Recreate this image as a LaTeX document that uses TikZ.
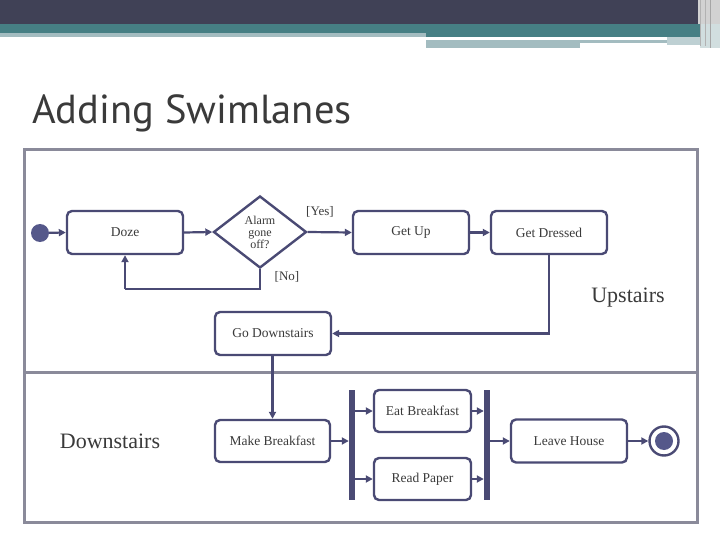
\documentclass[tikz,border=0pt]{standalone}
\usepackage{fontspec}
\setmainfont{Liberation Serif}
\newfontfamily\titlefont{PT Sans}
\usetikzlibrary{shapes.geometric,arrows.meta}
\definecolor{hdark}{HTML}{404156}
\definecolor{hteal}{HTML}{467F84}
\definecolor{hlight}{HTML}{A3BCC0}
\definecolor{frameg}{HTML}{8A8A9A}
\definecolor{ink}{HTML}{4A4A74}
\definecolor{dotfill}{HTML}{55588A}
\definecolor{txt}{HTML}{3A3A3A}
\tikzset{
  act/.style={draw=ink, line width=2.4pt, rounded corners=5pt, minimum width=116pt, minimum height=43pt, inner sep=0pt, font=\fontsize{13.5}{15}\selectfont, text=txt, fill=white},
  bar/.style={fill=ink, draw=none, minimum width=6pt, minimum height=110pt, inner sep=0pt},
  arr/.style={draw=ink, line width=2.2pt, -{Triangle[length=7pt,width=7pt]}},
  ln/.style={draw=ink, line width=2.2pt},
  lbl/.style={font=\fontsize{13}{14}\selectfont, text=txt, inner sep=0pt},
  lane/.style={font=\fontsize{22}{24}\selectfont, text=txt, inner sep=0pt}
}
\begin{document}
\begin{tikzpicture}[x=1pt,y=-1pt]
\useasboundingbox (0,0) rectangle (720,540);
\fill[white] (0,0) rectangle (720,540);
% header
\fill[hdark] (0,0) rectangle (720,24);
\fill[hteal] (0,24) rectangle (720,33);
\fill[hlight] (0,33) rectangle (426,37);
\fill[hteal] (426,33) rectangle (720,37);
\fill[hlight] (426,40) rectangle (667,43);
\fill[hlight] (426,43) rectangle (580,48);
\fill[hlight!70] (667,37) rectangle (712,45);
\fill[gray!35] (698,0) rectangle (720,24);
\fill[hlight!50] (700,24) rectangle (720,48);
\draw[gray!60, line width=0.8pt] (700,0) -- (700,46);
\draw[gray!60, line width=0.8pt] (705,0) -- (705,46);
\draw[gray!70, line width=1pt] (710,0) -- (710,48);
% title
\node[anchor=base west, inner sep=0pt, font=\titlefont\fontsize{40.5}{44}\selectfont, text=txt] (title) at (32,124) {Adding Swimlanes};
% frame
\draw[frameg, line width=3pt] (24,150) rectangle (697,522);
\draw[frameg, line width=3pt] (24,372) -- (697,372);
% lane labels
\node[lane] (up) at (628,298) {Upstairs};
\node[lane] (down) at (110,441) {Downstairs};
% nodes
\node[circle, fill=dotfill, minimum size=18pt, inner sep=0pt] (start) at (40,233) {};
\node[act] (doze) at (125,232.5) {Doze};
\node[diamond, draw=ink, line width=2.4pt, fill=white, minimum width=93pt, minimum height=72pt, aspect=1.29, inner sep=0pt, align=center, font=\fontsize{12}{12}\selectfont, text=txt] (dia) at (260,232) {Alarm\\gone\\off?};
\node[act] (getup) at (411,232.5) {Get Up};
\node[act] (dress) at (549,232.5) {Get Dressed};
\node[act] (gds) at (273,333.5) {Go Downstairs};
\node[act, minimum width=115pt, minimum height=42pt] (mb) at (272.5,441) {Make Breakfast};
\node[bar] (fork) at (352,445) {};
\node[act, minimum width=97pt, minimum height=42pt] (eat) at (422.5,411) {Eat Breakfast};
\node[act, minimum width=97pt, minimum height=42pt] (read) at (422.5,479) {Read Paper};
\node[bar] (join) at (487,445) {};
\node[act] (leave) at (569,441) {Leave House};
\node[circle, draw=ink, line width=2.4pt, fill=white, minimum size=29pt, inner sep=0pt] (endo) at (664,441) {};
\node[circle, fill=dotfill, minimum size=18pt, inner sep=0pt] (endi) at (664,441) {};
% labels
\node[lbl] (yes) at (320,212) {[Yes]};
\node[lbl] (no) at (287,277) {[No]};
% connectors
\coordinate (nocorner) at (125,289);
\draw[arr] (start) -- (doze.west);
\draw[arr] (doze.east) -- (dia.west);
\draw[arr] (dia.east) -- (getup.west);
\draw[arr] (getup.east) -- (dress.west);
\draw[ln] (dia.south) |- (nocorner);
\draw[arr] (nocorner) -- (doze.south);
\draw[arr] (dress.south) |- (gds.east);
\draw[arr] (gds.south -| mb.north) -- (mb.north);
\draw[arr] (mb.east) -- (mb.east -| fork.west);
\draw[arr] (fork.east |- eat.west) -- (eat.west);
\draw[arr] (fork.east |- read.west) -- (read.west);
\draw[arr] (eat.east) -- (eat.east -| join.west);
\draw[arr] (read.east) -- (read.east -| join.west);
\draw[arr] (join.east |- leave.west) -- (leave.west);
\draw[arr] (leave.east) -- (endo.west);
\end{tikzpicture}
\end{document}
